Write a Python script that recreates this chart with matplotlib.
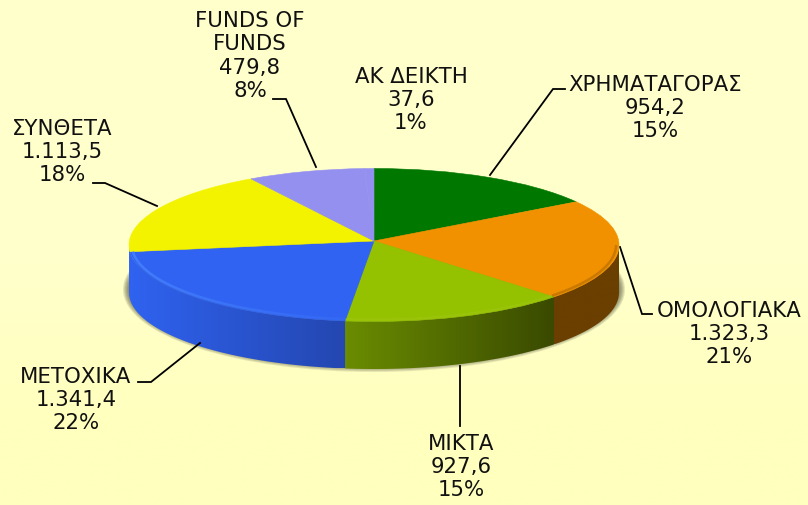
import numpy as np
import matplotlib
matplotlib.use("Agg")
import matplotlib.pyplot as plt
from matplotlib.collections import LineCollection
from matplotlib.patches import Ellipse, Polygon

# data
names = ["ΧΡΗΜΑΤΑΓΟΡΑΣ", "ΟΜΟΛΟΓΙΑΚΑ", "ΜΙΚΤΑ", "ΜΕΤΟΧΙΚΑ", "ΣΥΝΘΕΤΑ", "FUNDS OF\nFUNDS", "ΑΚ ΔΕΙΚΤΗ"]
values = [954.2, 1323.3, 927.6, 1341.4, 1113.5, 479.8, 37.6]
colors = ["#007800", "#F29100", "#94C100", "#3063F2", "#F3F300", "#9490F0", "#9490F0"]

# side colours, left end / right end of each slice as seen from the front
side_left = ["#007800", "#6A3F00", "#6A8C00", "#2F62F0", "#2F62F0", "#9490F0", "#9490F0"]
side_right = ["#007800", "#6A3F00", "#3A4A00", "#2447B0", "#2F62F0", "#9490F0", "#9490F0"]

# layout in pixels
W, H = 808, 506
cx, cy, rx, ry = 374, 246, 245, 76.5
depth = 47.5
apex_shift = 4

label_pos = [(655, 108), (729, 334), (461, 467), (76, 400), (62, 152), (250, 56), (411, 100)]
leaders = [
    [(565, 90), (553, 90), (490, 176)],
    [(652, 315), (642, 315), (620, 248)],
    [(460, 427), (460, 367)],
    [(138, 383), (151, 383), (200, 344)],
    [(93, 184), (105, 184), (157, 207)],
    [(273, 100), (286, 100), (316, 168)],
]


def fmt(v):
    return f"{v:,.1f}".replace(",", "#").replace(".", ",").replace("#", ".")


fig = plt.figure(figsize=(W / 100, H / 100), dpi=100)
ax = fig.add_axes([0, 0, 1, 1])
ax.set_xlim(0, W)
ax.set_ylim(H, 0)
ax.axis("off")

# background, very slightly deeper yellow at the bottom
bg = np.array([[255, 255, 204], [255, 255, 204], [255, 255, 190]]) / 255
ax.imshow(bg[:, None, :], extent=[0, W, H, 0], aspect="auto", interpolation="bilinear", zorder=0)
ax.set_xlim(0, W)
ax.set_ylim(H, 0)

# soft shadow under the disc
for i in range(8):
    ax.add_patch(Ellipse((cx, cy + depth - 3), 2 * (rx + 6 - i), 2 * (ry + 6 - i), fc="#4a4a38",
                         ec="none", alpha=0.14, zorder=1))

# side of the disc
fracs = np.array(values) / sum(values)
ends = np.cumsum(fracs) * 360
starts = ends - fracs * 360
for i in range(len(values)):
    a, b = max(starts[i], 90), min(ends[i], 270)
    if a >= b:
        continue
    t = np.radians(np.linspace(a, b, 80))
    x = cx + rx * np.sin(t)
    y = cy - ry * np.cos(t)
    pts = np.vstack([np.c_[x, y], np.c_[x[::-1], y[::-1] + depth]])
    poly = Polygon(pts, closed=True, fc="none", ec="none", zorder=2)
    ax.add_patch(poly)
    c0 = np.array(matplotlib.colors.to_rgb(side_left[i]))
    c1 = np.array(matplotlib.colors.to_rgb(side_right[i]))
    grad = np.linspace(c0, c1, 64)[None, :, :]
    im = ax.imshow(grad, extent=[x.min(), x.max(), y.max() + depth, y.min()], aspect="auto", zorder=2)
    im.set_clip_path(poly)
ax.set_xlim(0, W)
ax.set_ylim(H, 0)

# top face, pie in its own squashed axes
ax2 = fig.add_axes([(cx - rx) / W, 1 - (cy + ry) / H, 2 * rx / W, 2 * ry / H])
wedges, _ = ax2.pie(values, colors=colors, startangle=90, counterclock=False, radius=1)
ax2.set_aspect("auto")
ax2.set_xlim(-1, 1)
ax2.set_ylim(-1, 1)
for w, c in zip(wedges, colors):
    w.set_clip_on(False)
    w.set_edgecolor(c)
    w.set_linewidth(0.4)
    p = w.get_path()
    near = np.hypot(p.vertices[:, 0], p.vertices[:, 1]) < 1e-6
    p.vertices[near, 1] += apex_shift / ry

# rim on the front edge of the top: (colour, alpha at start, alpha at end)
rim = {1: ("#6A3F00", 0.3, 0.3), 2: ("#A8CC20", 0.3, 0.3), 3: ("#4A88FF", 0.15, 0.9)}
for i, (col, al0, al1) in rim.items():
    a, b = max(starts[i], 90), min(ends[i], 268)
    t = np.radians(np.linspace(a, b, 120))
    for s, lw in [(0.988, 1.8)]:
        xr, yr = s * np.sin(t), (2 * s - 1) * np.cos(t)
        segs = np.stack([np.c_[xr[:-1], yr[:-1]], np.c_[xr[1:], yr[1:]]], axis=1)
        rgba = np.tile(matplotlib.colors.to_rgba(col), (len(segs), 1))
        rgba[:, 3] = np.linspace(al0, al1, len(segs))
        ax2.add_collection(LineCollection(segs, colors=rgba, linewidths=lw, clip_on=False))

# leader lines
for line in leaders:
    xs, ys = zip(*line)
    ax.plot(xs, ys, color="black", lw=1.3, zorder=6, solid_joinstyle="miter")

# labels
for i in range(len(values)):
    txt = f"{names[i]}\n{fmt(values[i])}\n{fracs[i] * 100:.0f}%"
    fig.text(label_pos[i][0] / W, 1 - label_pos[i][1] / H, txt, ha="center", va="center",
             fontsize=15.3, color="#111111", family="DejaVu Sans", linespacing=1.2)

fig.savefig("out.png", dpi=100)
